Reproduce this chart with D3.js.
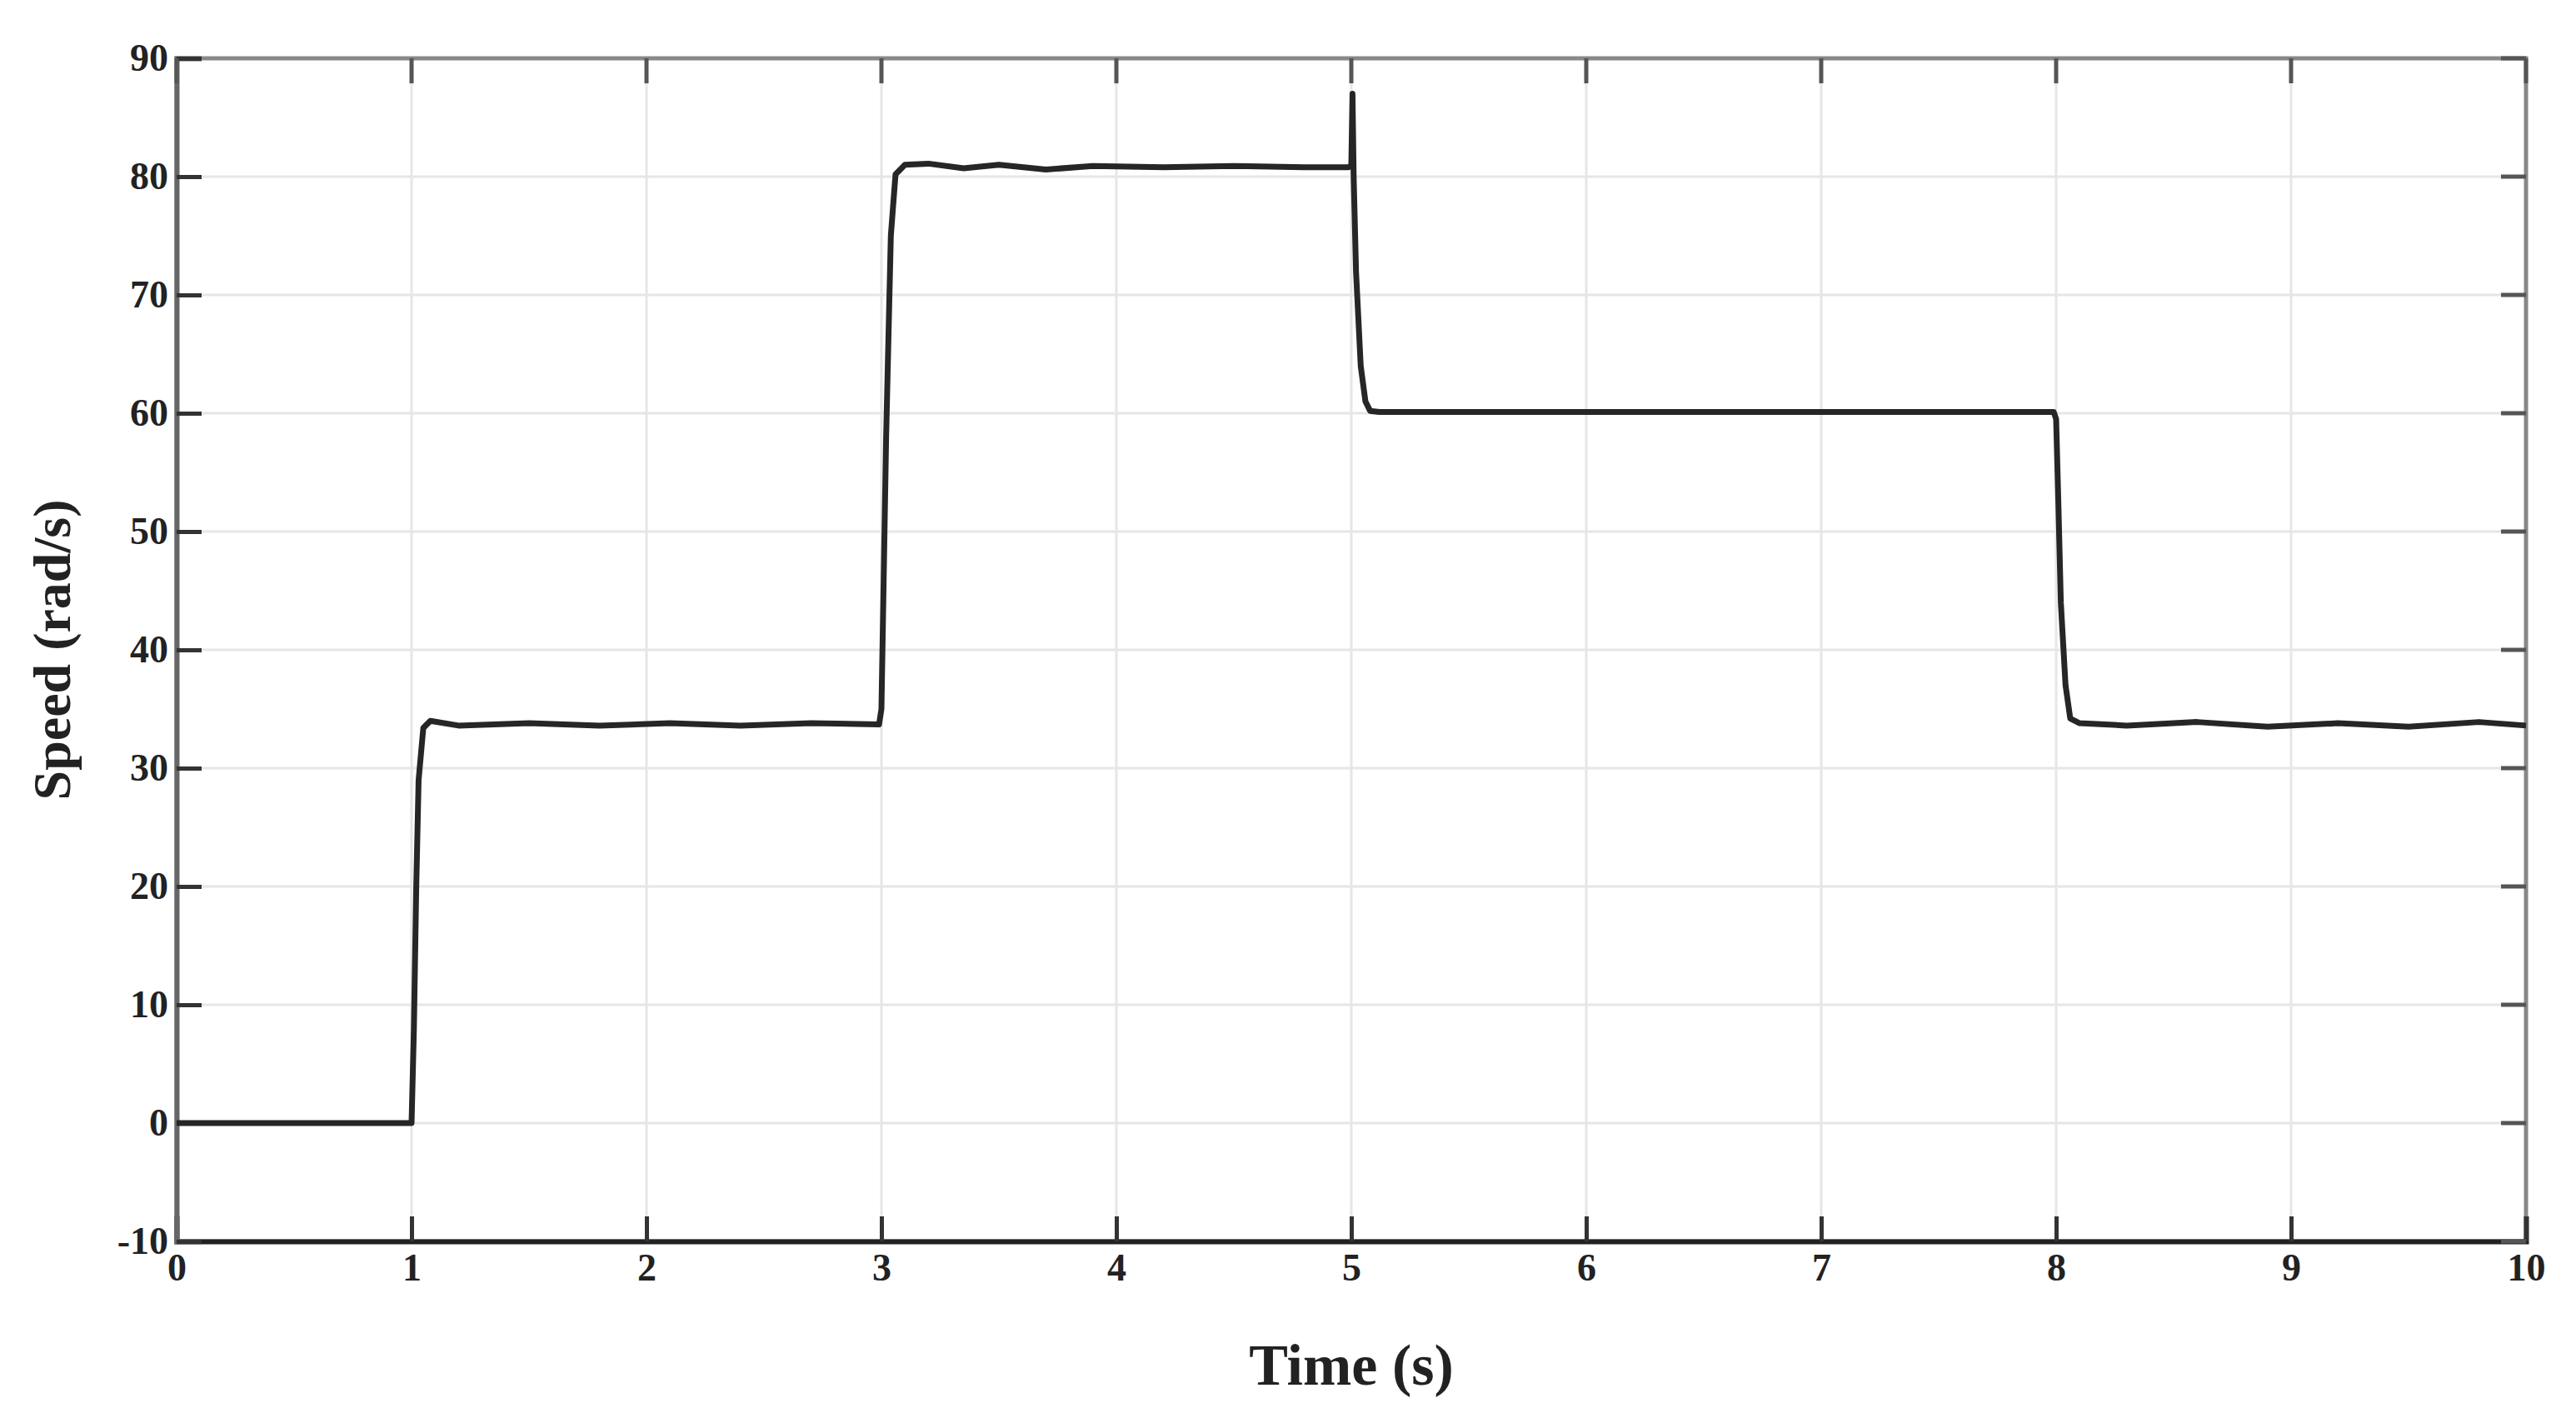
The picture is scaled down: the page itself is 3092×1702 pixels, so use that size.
<!DOCTYPE html>
<html>
<head>
<meta charset="utf-8">
<script src="https://cdn.jsdelivr.net/npm/d3@7"></script>
<style>
  body { margin: 0; background: #fff; }
  text { font-family: "Liberation Serif", "DejaVu Serif", serif; font-weight: bold; fill: #222; }
</style>
</head>
<body>
<svg id="chart" width="3092" height="1702"></svg>
<script>
// speed response
var timeS  = [0, 1.0, 1.01, 1.02, 1.03, 1.05, 1.08, 1.2, 1.5, 1.8, 2.1, 2.4, 2.7, 2.99,
              3.0, 3.02, 3.04, 3.06, 3.1, 3.2, 3.35, 3.5, 3.7, 3.9, 4.2, 4.5, 4.8, 4.99,
              5.0, 5.005, 5.01, 5.02, 5.04, 5.06, 5.08, 5.12, 5.5, 6.0, 6.5, 7.0, 7.5, 7.99,
              8.0, 8.01, 8.02, 8.04, 8.06, 8.1, 8.3, 8.6, 8.9, 9.2, 9.5, 9.8, 10];
var speed  = [0, 0, 8, 20, 29, 33.4, 34.0, 33.6, 33.8, 33.6, 33.8, 33.6, 33.8, 33.7,
              35, 58, 75, 80.2, 81.0, 81.1, 80.7, 81.0, 80.6, 80.9, 80.8, 80.9, 80.8, 80.8,
              81, 87, 80, 72, 64, 61, 60.2, 60.1, 60.1, 60.1, 60.1, 60.1, 60.1, 60.1,
              59.5, 52, 44, 37, 34.2, 33.8, 33.6, 33.9, 33.5, 33.8, 33.5, 33.9, 33.6];
var xTicks = [0, 1, 2, 3, 4, 5, 6, 7, 8, 9, 10];
var yTicks = [-10, 0, 10, 20, 30, 40, 50, 60, 70, 80, 90];

var svg = d3.select("#chart");
var m = {left: 212, right: 3032, top: 70, bottom: 1490};

var x = d3.scaleLinear().domain([0, 10]).range([m.left, m.right]);
var y = d3.scaleLinear().domain([-10, 90]).range([m.bottom, m.top]);

// grid
svg.append("g").selectAll("line.gx").data(xTicks).enter().append("line")
  .attr("x1", d => x(d)).attr("x2", d => x(d)).attr("y1", m.top).attr("y2", m.bottom)
  .attr("stroke", "#e6e6e6").attr("stroke-width", 3);
svg.append("g").selectAll("line.gy").data(yTicks).enter().append("line")
  .attr("y1", d => y(d)).attr("y2", d => y(d)).attr("x1", m.left).attr("x2", m.right)
  .attr("stroke", "#e6e6e6").attr("stroke-width", 3);

// box
svg.append("rect").attr("x", m.left).attr("y", m.top)
  .attr("width", m.right - m.left).attr("height", m.bottom - m.top)
  .attr("fill", "none").attr("stroke", "#888").attr("stroke-width", 5);

// axes
var xAxis = svg.append("g").attr("transform", "translate(0," + m.bottom + ")")
  .call(d3.axisBottom(x).tickValues(xTicks).tickSize(-30).tickPadding(14));
var yAxis = svg.append("g").attr("transform", "translate(" + m.left + ",0)")
  .call(d3.axisLeft(y).tickValues(yTicks).tickSize(-30).tickPadding(10).tickFormat(d => String(d)));
xAxis.select(".domain").attr("stroke", "#222").attr("stroke-width", 6);
yAxis.select(".domain").attr("stroke", "#666").attr("stroke-width", 6);
[xAxis, yAxis].forEach(function(a) {
  a.selectAll(".tick line").attr("stroke", "#333").attr("stroke-width", 5);
  a.selectAll("text").style("font-size", "46px").attr("fill", "#222");
});
// right / top tick marks
svg.append("g").selectAll("line").data(yTicks).enter().append("line")
  .attr("x1", m.right).attr("x2", m.right - 30).attr("y1", d => y(d)).attr("y2", d => y(d))
  .attr("stroke", "#555").attr("stroke-width", 5);
svg.append("g").selectAll("line").data(xTicks).enter().append("line")
  .attr("y1", m.top).attr("y2", m.top + 30).attr("x1", d => x(d)).attr("x2", d => x(d))
  .attr("stroke", "#555").attr("stroke-width", 5);

// line
var line = d3.line().x(function(d, i) { return x(timeS[i]); }).y(d => y(d));
svg.append("path").datum(speed).attr("d", line)
  .attr("fill", "none").attr("stroke", "#262626").attr("stroke-width", 7)
  .attr("stroke-linejoin", "round");

// titles
svg.append("text").attr("x", (m.left + m.right) / 2).attr("y", 1662)
  .attr("text-anchor", "middle").style("font-size", "70px").text("Time (s)");
svg.append("text").attr("transform", "translate(84," + ((m.top + m.bottom) / 2) + ") rotate(-90)")
  .attr("text-anchor", "middle").style("font-size", "64px").text("Speed (rad/s)");
</script>
</body>
</html>
